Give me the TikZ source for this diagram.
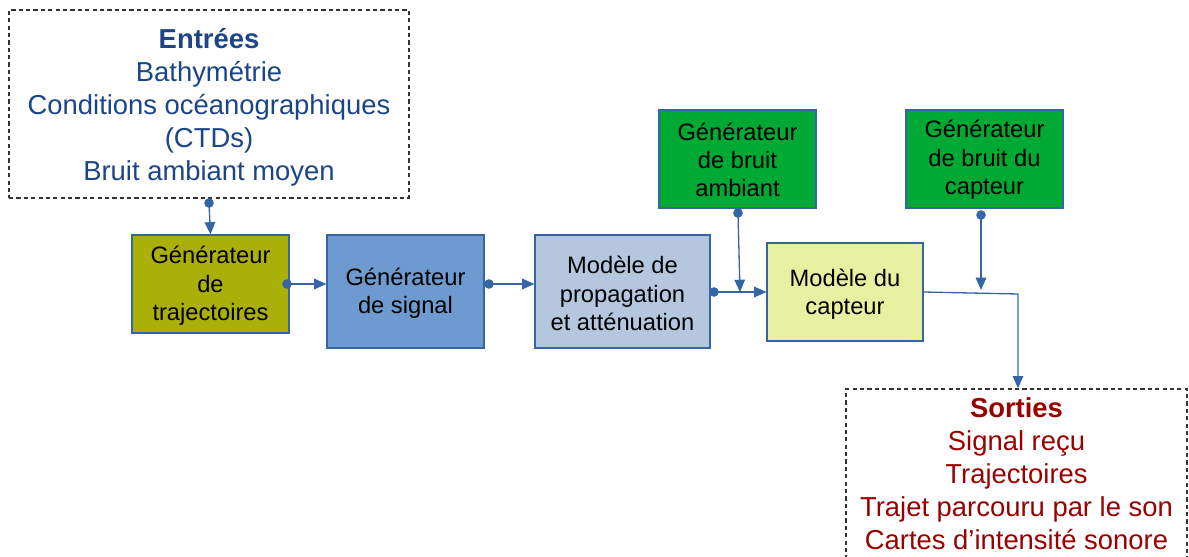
\documentclass[tikz,border=0pt]{standalone}
\usepackage{fontspec}
\setmainfont{Liberation Sans}
\usetikzlibrary{arrows.meta}
\definecolor{inblue}{HTML}{1C4587}
\definecolor{outred}{HTML}{990000}
\definecolor{edgeblue}{HTML}{3465A4}
\definecolor{olive}{HTML}{ABB009}
\definecolor{sigblue}{HTML}{6E9BCF}
\definecolor{propblue}{HTML}{B4C7DF}
\definecolor{capyellow}{HTML}{E6F0A0}
\definecolor{noisegreen}{HTML}{00A933}
\begin{document}
\begin{tikzpicture}[x=0.02cm,y=-0.02cm,
  iobox/.style={draw=black!80, line width=0.75pt, dash pattern=on 2.4pt off 1.8pt, inner sep=0pt},
  iotext/.style={align=center, inner sep=0pt, font=\fontsize{15.6}{18.8}\selectfont},
  blk/.style={draw=edgeblue, line width=0.6pt, inner sep=0pt},
  blktext/.style={align=center, inner sep=0pt, font=\fontsize{13.5}{16.1}\selectfont},
  conn/.style={draw=edgeblue, line width=0.75pt, -{Triangle[length=7pt,width=6pt]}},
  dotc/.style={fill=edgeblue, draw=none},
]
\clip (0,0) rectangle (1189,557);
\fill[white] (0,0) rectangle (1189,557);

\node[iobox, minimum width=400*0.02cm, minimum height=188*0.02cm] (entrees) at (209,104) {};
\node[iotext, text=inblue] (entreest) at ([yshift=-3*0.02cm]entrees.center)
  {\textbf{Entrées}\\Bathymétrie\\Conditions océanographiques\\(CTDs)\\Bruit ambiant moyen};
\node[iobox, minimum width=341*0.02cm, minimum height=170*0.02cm] (sorties) at (1016.5,474) {};
\node[iotext, text=outred] (sortiest) at (sorties.center)
  {\textbf{Sorties}\\Signal reçu\\Trajectoires\\Trajet parcouru par le son\\Cartes d’intensité sonore};

\node[blk, fill=olive, minimum width=157*0.02cm, minimum height=98*0.02cm] (traj) at (210.5,284) {};
\node[blktext] (trajt) at ([yshift=-2*0.02cm]traj.center) {Générateur\\de\\trajectoires};
\node[blk, fill=sigblue, minimum width=157*0.02cm, minimum height=113*0.02cm] (signal) at (405.5,291.5) {};
\node[blktext] (signalt) at ([yshift=-2*0.02cm]signal.center) {Générateur\\de signal};
\node[blk, fill=propblue, minimum width=175*0.02cm, minimum height=113*0.02cm] (prop) at (622.5,291.5) {};
\node[blktext] (propt) at ([yshift=-2*0.02cm]prop.center) {Modèle de\\propagation\\et atténuation};
\node[blk, fill=capyellow, minimum width=156*0.02cm, minimum height=98*0.02cm] (capteur) at (845,292) {};
\node[blktext] (capteurt) at ([yshift=-2*0.02cm]capteur.center) {Modèle du\\capteur};
\node[blk, fill=noisegreen, minimum width=157*0.02cm, minimum height=98*0.02cm] (bamb) at (737.5,159) {};
\node[blktext] (bambt) at ([yshift=-1*0.02cm]bamb.center) {Générateur\\de bruit\\ambiant};
\node[blk, fill=noisegreen, minimum width=157*0.02cm, minimum height=98*0.02cm] (bcap) at (984.5,159) {};
\node[blktext] (bcapt) at ([yshift=-1*0.02cm]bcap.center) {Générateur\\de bruit du\\capteur};

% dots / junctions
\coordinate (d1) at (209,203);
\coordinate (d2) at (287,284);
\coordinate (d3) at (489,284);
\coordinate (d4) at (714,292);
\coordinate (d5) at (738,213);
\coordinate (d6) at (981,215);
\coordinate (j1) at (740,292);
\coordinate (j2) at (981,290);
\coordinate (c3) at (1018,294);

\draw[conn] (d1) -- (traj.north);
\draw[conn] (d2) -- (signal.west |- d2);
\draw[conn] (d3) -- (prop.west |- d3);
\draw[conn] (d4) -- (capteur.west |- d4);
\draw[conn] (d5) -- (j1);
\draw[conn] (d6) -- (j2);
\draw[conn] (capteur.east) -- (c3) -- (c3 |- sorties.north);

\foreach \d in {d1,d2,d3,d4,d5,d6}
  \fill[dotc] (\d) circle (4.8);
\end{tikzpicture}
\end{document}
